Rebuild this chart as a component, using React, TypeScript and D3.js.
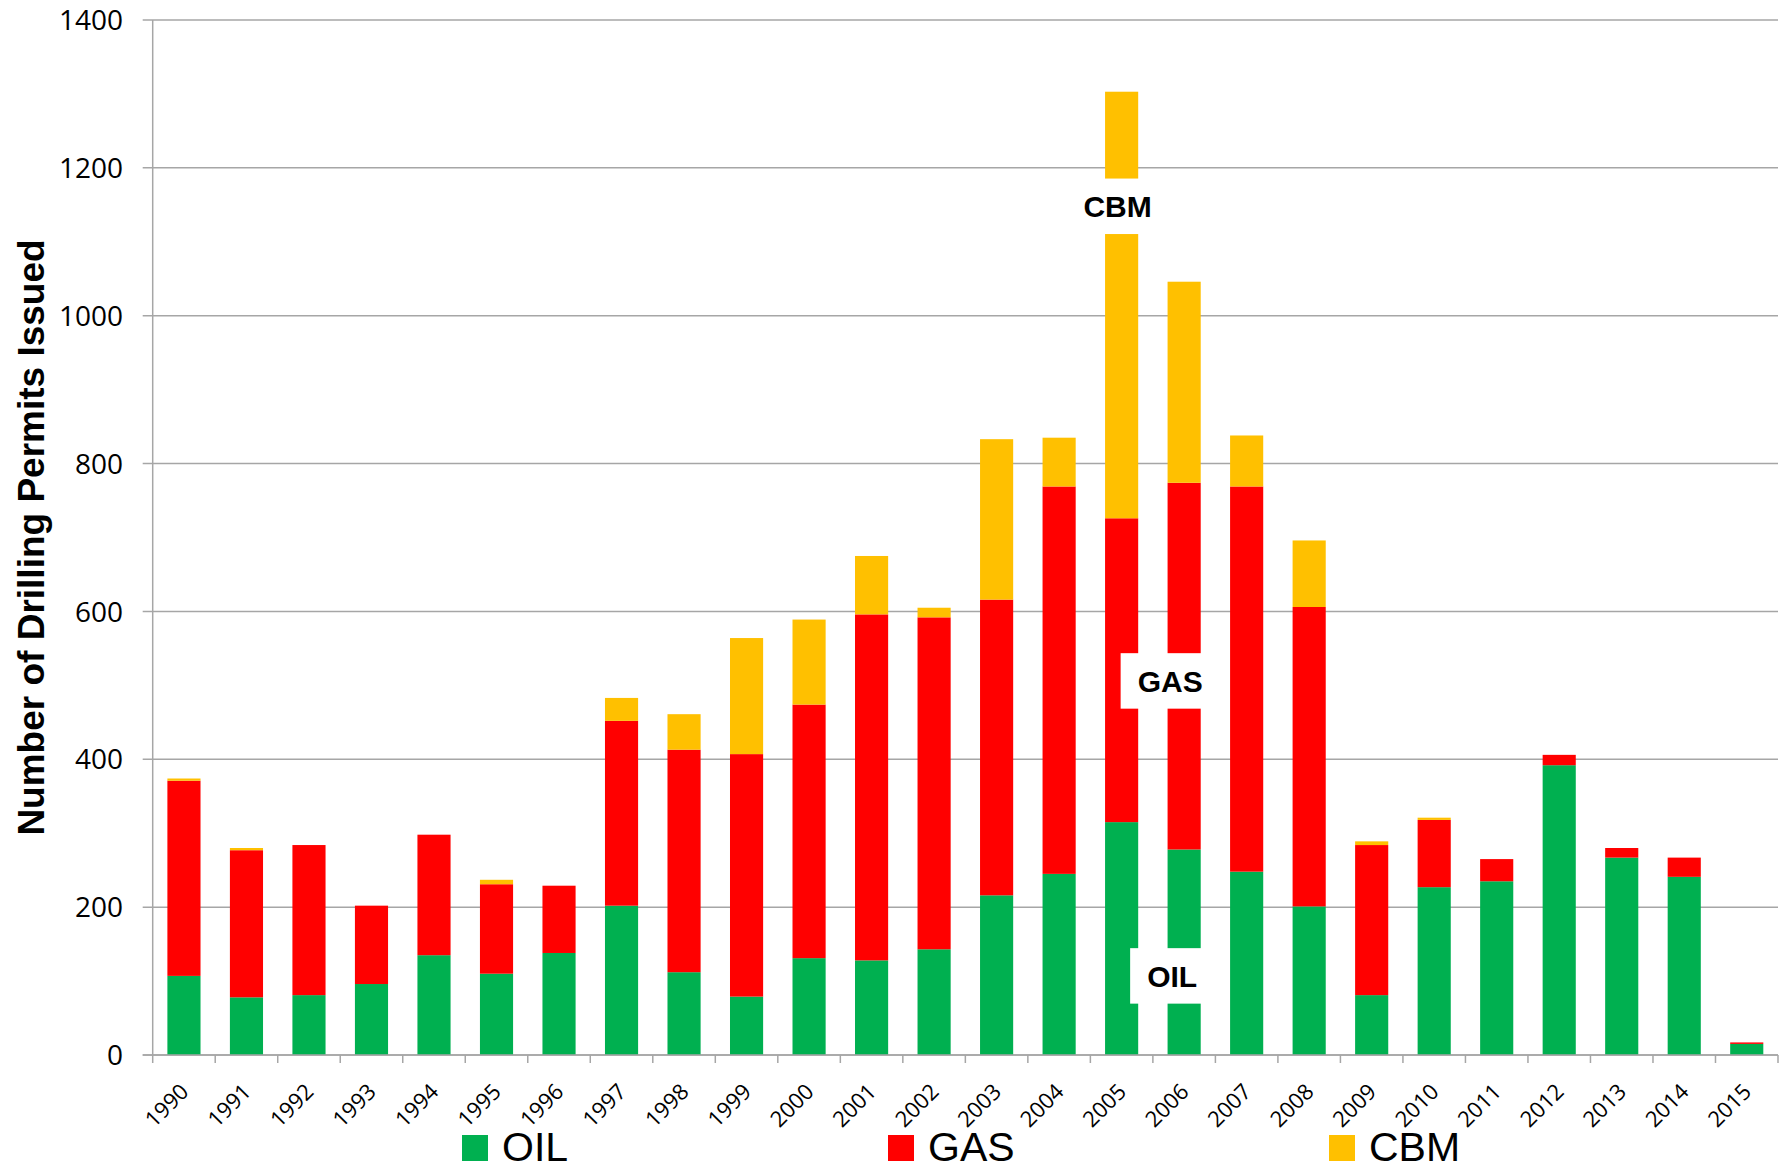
import React, { useRef, useEffect } from 'react';
import * as d3 from 'd3';

const years = [
  '1990', '1991', '1992', '1993', '1994', '1995', '1996', '1997', '1998',
  '1999', '2000', '2001', '2002', '2003', '2004', '2005', '2006', '2007',
  '2008', '2009', '2010', '2011', '2012', '2013', '2014', '2015',
];
const oil = [107, 78, 81, 96, 135, 110, 138, 202, 112, 79, 131, 128, 143, 216, 245, 315, 278, 248, 201, 81, 227, 235, 392, 267, 241, 15];
const gas = [264, 199, 203, 106, 163, 121, 91, 250, 301, 328, 343, 468, 449, 400, 524, 411, 496, 521, 405, 203, 91, 30, 14, 13, 26, 2];
const cbm = [3, 3, 0, 0, 0, 6, 0, 31, 48, 157, 115, 79, 13, 217, 66, 577, 272, 69, 90, 5, 3, 0, 0, 0, 0, 0];

const seriesNames = ['OIL', 'GAS', 'CBM'];
const seriesColors = ['#00b050', '#ff0000', '#ffc000'];
const yTicks = [0, 200, 400, 600, 800, 1000, 1200, 1400];

// in-chart labels: which year they sit on and at what value
const notes = [
  { label: 'CBM', year: '2005', value: 1148, dx: -4 },
  { label: 'GAS', year: '2006', value: 506, dx: -14 },
  { label: 'OIL', year: '2006', value: 107, dx: -12 },
];

const App = () => {
  const svgRef = useRef(null);

  useEffect(() => {
    const width = 1787;
    const height = 1171;
    const left = 152.7;
    const right = 1778;
    const top = 20;
    const bottom = 1055;
    const grey = '#a6a6a6';

    const svg = d3.select(svgRef.current).attr('width', width).attr('height', height);
    svg.selectAll('*').remove();

    const x = d3.scaleBand().domain(years).range([left, right]).paddingInner(0.47).paddingOuter(0.235);
    const y = d3.scaleLinear().domain([0, 1400]).range([bottom, top]);

    // gridlines + y ticks
    svg
      .append('g')
      .selectAll('line')
      .data(yTicks)
      .enter()
      .append('line')
      .attr('x1', left - 10)
      .attr('x2', right)
      .attr('y1', (d) => y(d))
      .attr('y2', (d) => y(d))
      .attr('stroke', grey)
      .attr('stroke-width', 1.5);

    svg
      .append('g')
      .selectAll('text')
      .data(yTicks)
      .enter()
      .append('text')
      .attr('x', 123)
      .attr('y', (d) => y(d))
      .attr('dy', '0.36em')
      .attr('text-anchor', 'end')
      .attr('font-family', 'Open Sans')
      .attr('font-size', 28)
      .attr('fill', '#000')
      .text((d) => d);

    // stacked bars
    const rows = years.map((yr, i) => ({ year: yr, OIL: oil[i], GAS: gas[i], CBM: cbm[i] }));
    const stacked = d3.stack().keys(seriesNames)(rows);

    svg
      .append('g')
      .selectAll('g')
      .data(stacked)
      .enter()
      .append('g')
      .attr('fill', (d, i) => seriesColors[i])
      .selectAll('rect')
      .data((d) => d.filter((p) => p[1] - p[0] > 0))
      .enter()
      .append('rect')
      .attr('x', (d) => x(d.data.year))
      .attr('width', x.bandwidth())
      .attr('y', (d) => y(d[1]))
      .attr('height', (d) => y(d[0]) - y(d[1]));

    // axes lines
    svg
      .append('line')
      .attr('x1', left)
      .attr('x2', left)
      .attr('y1', top)
      .attr('y2', bottom)
      .attr('stroke', grey)
      .attr('stroke-width', 1.5);
    svg
      .append('line')
      .attr('x1', left - 10)
      .attr('x2', right)
      .attr('y1', bottom)
      .attr('y2', bottom)
      .attr('stroke', grey)
      .attr('stroke-width', 1.5);

    // x ticks at category boundaries
    const bounds = d3.range(years.length + 1).map((i) => left + i * x.step());
    svg
      .append('g')
      .selectAll('line')
      .data(bounds)
      .enter()
      .append('line')
      .attr('x1', (d) => d)
      .attr('x2', (d) => d)
      .attr('y1', bottom)
      .attr('y2', bottom + 8)
      .attr('stroke', grey)
      .attr('stroke-width', 1.5);

    svg
      .append('g')
      .selectAll('text')
      .data(years)
      .enter()
      .append('text')
      .attr('transform', (d) => `translate(${x(d) + x.bandwidth() / 2 + 6},${bottom + 38}) rotate(-45)`)
      .attr('text-anchor', 'end')
      .attr('font-family', 'Open Sans')
      .attr('font-size', 22)
      .attr('fill', '#000')
      .text((d) => d);

    // y axis title
    svg
      .append('text')
      .attr('transform', `translate(44,${(top + bottom) / 2}) rotate(-90)`)
      .attr('text-anchor', 'middle')
      .attr('font-family', 'Liberation Sans, Arial, sans-serif')
      .attr('font-weight', 'bold')
      .attr('font-size', 37)
      .attr('fill', '#000')
      .text('Number of Drilling Permits Issued');

    // annotations with white boxes
    const capH = 0.716 * 30;
    notes.forEach((n) => {
      const cx = x(n.year) + x.bandwidth() / 2 + n.dx;
      const base = y(n.value) + capH / 2;
      const g = svg.append('g');
      const box = g.append('rect').attr('fill', '#fff');
      const t = g
        .append('text')
        .attr('x', cx)
        .attr('y', base)
        .attr('text-anchor', 'middle')
        .attr('font-family', 'Liberation Sans, Arial, sans-serif')
        .attr('font-weight', 'bold')
        .attr('font-size', 30)
        .attr('fill', '#000')
        .text(n.label);
      const w = t.node().getComputedTextLength();
      box
        .attr('x', cx - w / 2 - 17)
        .attr('width', w + 34)
        .attr('y', base - capH - 17)
        .attr('height', capH + 34);
    });

    // legend
    const legendX = [462, 888, 1329];
    const lg = svg
      .append('g')
      .selectAll('g')
      .data(seriesNames)
      .enter()
      .append('g')
      .attr('transform', (d, i) => `translate(${legendX[i]},1135)`);
    lg.append('rect')
      .attr('width', 26)
      .attr('height', 26)
      .attr('fill', (d, i) => seriesColors[i]);
    lg.append('text')
      .attr('x', 40)
      .attr('y', 26)
      .attr('font-family', 'Liberation Sans, Arial, sans-serif')
      .attr('font-size', 41)
      .attr('fill', '#000')
      .text((d) => d);
  }, []);

  return (
    <div style={{ position: 'absolute', left: 0, top: 0, background: '#fff' }}>
      <svg ref={svgRef} style={{ display: 'block' }} />
    </div>
  );
};

export default App;
